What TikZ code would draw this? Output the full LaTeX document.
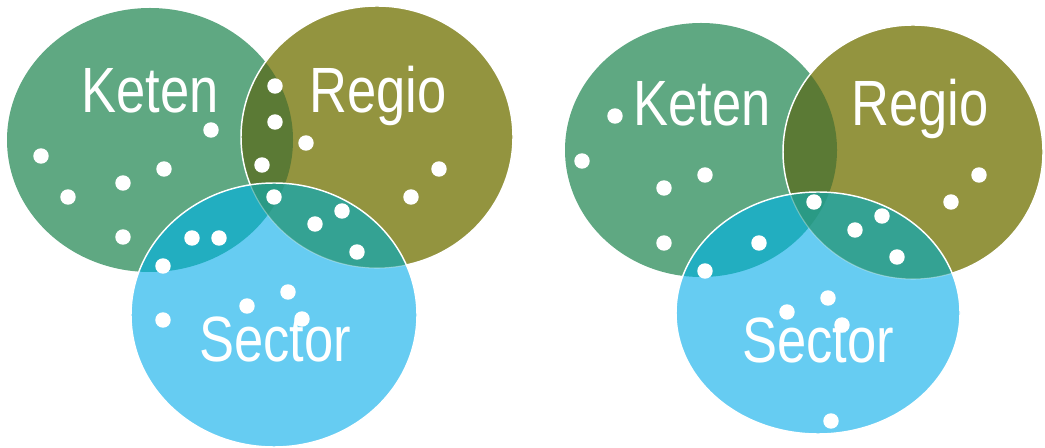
\documentclass[tikz,border=0pt]{standalone}
\usepackage{fontspec}
\setmainfont[FakeStretch=0.82]{Liberation Sans}
\definecolor{ketencol}{HTML}{5FA882}
\definecolor{regiocol}{HTML}{93943F}
\definecolor{sectorcol}{HTML}{66CCF2}
\definecolor{krcol}{HTML}{5B7A35}
\definecolor{kscol}{HTML}{22AEC0}
\definecolor{rscol}{HTML}{34A293}
\definecolor{krscol}{HTML}{2A9A85}
% the three sets, left and right version
\newcommand{\ketenA}{(150,140) ellipse [x radius=143, y radius=132]}
\newcommand{\regioA}{(377,137) ellipse [x radius=136, y radius=131]}
\newcommand{\sectorA}{(274,315) ellipse [x radius=143, y radius=132]}
\newcommand{\ketenB}{(701,150) ellipse [x radius=136, y radius=127]}
\newcommand{\regioB}{(913,152) ellipse [x radius=130, y radius=127]}
\newcommand{\sectorB}{(818,313) ellipse [x radius=142, y radius=121]}

\begin{document}
\begin{tikzpicture}[x=0.75pt, y=-0.75pt,
    setname/.style={font=\fontsize{48}{48}\selectfont, text=white, anchor=base, inner sep=0pt},
    dot/.style={circle, fill=white, minimum size=11.6pt, inner sep=0pt},
    rim/.style={draw=white, line width=1.1pt}]

    \useasboundingbox (0,0) rectangle (1045,448);

    % left diagram
    \fill[ketencol] \ketenA;
    \fill[regiocol] \regioA;
    \begin{scope} \clip \ketenA; \fill[krcol] \regioA; \end{scope}
    \path[rim] \regioA;
    \fill[sectorcol] \sectorA;
    \begin{scope} \clip \ketenA; \fill[kscol] \sectorA; \end{scope}
    \begin{scope} \clip \regioA; \fill[rscol] \sectorA; \end{scope}
    \begin{scope} \clip \ketenA; \clip \regioA; \fill[krscol] \sectorA; \end{scope}
    \begin{scope} \clip \sectorA; \path[rim, draw opacity=0.35, line width=0.8pt] \regioA; \end{scope}
    \path[rim] \sectorA;

    \node[setname] (ketenL) at (150,113) {Keten};
    \node[setname] (regioL) at (378,113) {Regio};
    \node[setname] (sectorL) at (275,362) {Sector};

    \foreach \x/\y [count=\i] in {211/130, 41/156, 68/197, 123/183, 164/169, 123/237,
        275/86, 275/122, 262/165, 306/143, 439/169, 411/197, 274/197,
        192/238, 219/238, 163/266, 342/211, 315/224, 357/252,
        288/292, 247/306, 302/319, 163/320}
        \node[dot] (dl\i) at (\x,\y) {};

    % right diagram
    \fill[ketencol] \ketenB;
    \fill[regiocol] \regioB;
    \begin{scope} \clip \ketenB; \fill[krcol] \regioB; \end{scope}
    \path[rim] \regioB;
    \fill[sectorcol] \sectorB;
    \begin{scope} \clip \ketenB; \fill[kscol] \sectorB; \end{scope}
    \begin{scope} \clip \regioB; \fill[rscol] \sectorB; \end{scope}
    \begin{scope} \clip \ketenB; \clip \regioB; \fill[krscol] \sectorB; \end{scope}
    \begin{scope} \clip \sectorB; \path[rim, draw opacity=0.35, line width=0.8pt] \regioB; \end{scope}
    \path[rim] \sectorB;

    \node[setname] (ketenR) at (702,126) {Keten};
    \node[setname] (regioR) at (920,126) {Regio};
    \node[setname] (sectorR) at (818,363) {Sector};

    \foreach \x/\y [count=\i] in {615/116, 582/161, 705/175, 664/188, 664/243,
        979/175, 951/202, 814/202, 759/243, 705/271,
        882/216, 855/230, 897/257,
        828/298, 787/312, 842/325, 831/421}
        \node[dot] (dr\i) at (\x,\y) {};
\end{tikzpicture}
\end{document}
